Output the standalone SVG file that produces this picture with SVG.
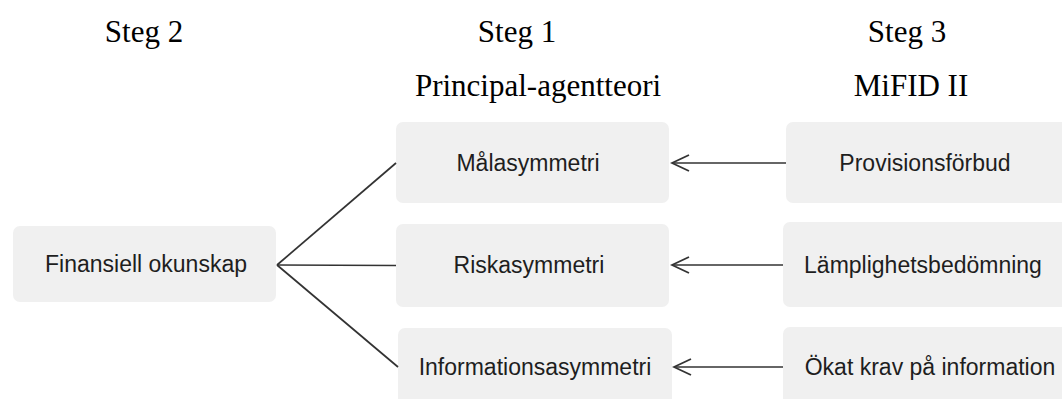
<svg xmlns="http://www.w3.org/2000/svg" width="1062" height="399" viewBox="0 0 1062 399">
  <style>
    .head { font-family: "Liberation Serif", "Times New Roman", serif; font-size: 31px; fill: #000; text-anchor: middle; }
    .box { fill: #f0f0f0; }
    .label { font-family: "Liberation Sans", Arial, sans-serif; font-size: 23px; fill: #1e1e1e; text-anchor: middle; }
    .link { stroke: #333; stroke-width: 1.7; fill: none; }
  </style>
  <defs>
    <!-- open chevron arrowhead, tip at the line end -->
    <marker id="openArrow" markerUnits="userSpaceOnUse" markerWidth="22" markerHeight="22" viewBox="-20 -11 22 22" refX="0" refY="0" orient="auto">
      <path d="M-17,-8 L0,0 L-17,8" fill="none" stroke="#333" stroke-width="1.8"/>
    </marker>
  </defs>
  <rect width="1062" height="399" fill="#fff"/>

  <!-- column headings -->
  <g id="headings">
    <text class="head" x="144" y="42">Steg 2</text>
    <text class="head" x="517" y="42">Steg 1</text>
    <text class="head" x="907" y="42">Steg 3</text>
    <text class="head" x="538" y="96">Principal-agentteori</text>
    <text class="head" x="911" y="96">MiFID II</text>
  </g>

  <!-- nodes -->
  <g id="node-finansiell">
    <rect class="box" x="13" y="226" width="263" height="76" rx="7"/>
    <text class="label" x="146" y="272">Finansiell okunskap</text>
  </g>
  <g id="node-malasymmetri">
    <rect class="box" x="396" y="122" width="273" height="81" rx="7"/>
    <text class="label" x="528" y="171">Målasymmetri</text>
  </g>
  <g id="node-riskasymmetri">
    <rect class="box" x="396" y="224" width="273" height="83" rx="7"/>
    <text class="label" x="529" y="273">Riskasymmetri</text>
  </g>
  <g id="node-informationsasymmetri">
    <rect class="box" x="398" y="328" width="274" height="84" rx="7"/>
    <text class="label" x="535" y="375">Informationsasymmetri</text>
  </g>
  <g id="node-provisionsforbud">
    <rect class="box" x="786" y="122" width="290" height="81" rx="7"/>
    <text class="label" x="925" y="171">Provisionsförbud</text>
  </g>
  <g id="node-lamplighetsbedomning">
    <rect class="box" x="783" y="222" width="293" height="85" rx="7"/>
    <text class="label" x="923" y="273">Lämplighetsbedömning</text>
  </g>
  <g id="node-okat-krav">
    <rect class="box" x="783" y="327" width="293" height="85" rx="7"/>
    <text class="label" x="930" y="375">Ökat krav på information</text>
  </g>

  <!-- connectors -->
  <g id="connectors">
    <line class="link" x1="277" y1="265" x2="396" y2="163"/>
    <line class="link" x1="277" y1="265" x2="396" y2="265.5"/>
    <line class="link" x1="277" y1="265" x2="398" y2="367"/>
    <line class="link" x1="786" y1="163" x2="672" y2="163" marker-end="url(#openArrow)"/>
    <line class="link" x1="783" y1="265" x2="672" y2="265" marker-end="url(#openArrow)"/>
    <line class="link" x1="783" y1="367" x2="674" y2="367" marker-end="url(#openArrow)"/>
  </g>
</svg>
